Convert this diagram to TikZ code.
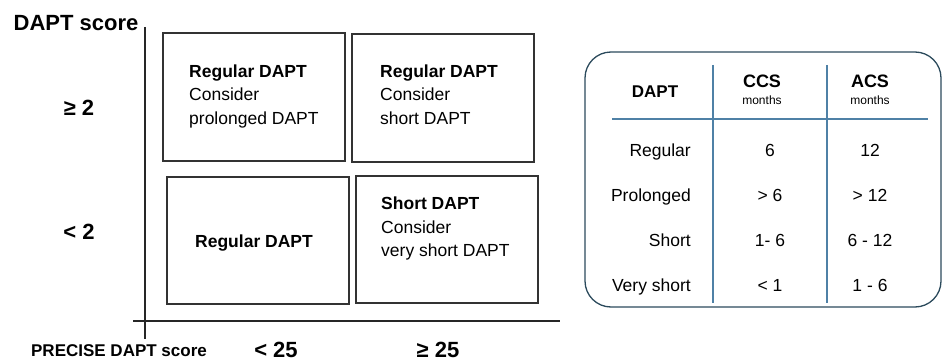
\documentclass[tikz,border=0pt]{standalone}
\usepackage{fontspec}
\setmainfont{Liberation Sans}
\usetikzlibrary{positioning}

\definecolor{boxline}{HTML}{333333}
\definecolor{tabframe}{HTML}{2B4A5C}
\definecolor{tabrule}{HTML}{4F81A6}

\tikzset{
	cell/.style={draw=boxline, line width=1.4pt, minimum width=182pt, inner sep=0pt},
	celltext/.style={align=left, inner sep=0pt, font=\fontsize{17.5}{23.5}\selectfont},
	axislabel/.style={inner sep=0pt, font=\bfseries\fontsize{22}{24}\selectfont},
	axis/.style={draw=black!85, line width=1.2pt},
	tabtext/.style={inner sep=0pt, text height=12.5pt, text depth=3.5pt, font=\fontsize{17.5}{20}\selectfont},
	tabhead/.style={inner sep=0pt, font=\bfseries\fontsize{18}{20}\selectfont},
	tabsmall/.style={inner sep=0pt, font=\fontsize{12}{14}\selectfont},
	rule/.style={draw=tabrule, line width=1.3pt}
}

\begin{document}
\begin{tikzpicture}[x=1pt,y=-1pt]
		\useasboundingbox (0,0) rectangle (943,361);
		% axes
		\coordinate (ytop) at (145,27);
		\coordinate (ybot) at (145,339);
		\coordinate (xleft) at (133,321);
		\coordinate (xright) at (560,321);
		\path[axis]
			(ytop) edge (ybot)
			(xleft) edge (xright);
		\draw (76,23) node [axislabel] (yname) {DAPT score};
		\draw (79,108) node [axislabel] (high) {≥ 2};
		\draw (79,232) node [axislabel] (low) {< 2};
		\draw (119,351) node [axislabel, font=\bfseries\fontsize{17}{19}\selectfont] (xname) {PRECISE DAPT score};
		\draw (276,350) node [axislabel] (under) {< 25};
		\draw (438,350) node [axislabel] (over) {≥ 25};

		% the four cells
		\draw (254,97) node [cell, minimum height=128pt] (tl) {};
		\draw (443,98) node [cell, minimum height=128pt] (tr) {};
		\draw (258,240.5) node [cell, minimum height=127pt] (bl) {};
		\draw (447,239.5) node [cell, minimum height=127pt] (br) {};
		\draw (189,96) node [celltext, anchor=west] (tltext) {\textbf{Regular DAPT}\\Consider\\prolonged DAPT};
		\draw (380,94.5) node [celltext, anchor=west] (trtext) {\textbf{Regular DAPT}\\Consider\\short DAPT};
		\draw (254,243) node [celltext] (bltext) {\textbf{Regular DAPT}};
		\draw (381,228.5) node [celltext, anchor=west] (brtext) {\textbf{Short DAPT}\\Consider\\very short DAPT};

		% duration table
		\draw (763,179.5) node [draw=tabframe, line width=1.3pt, rounded corners=26pt, minimum width=356pt, minimum height=255pt] (tab) {};
		\coordinate (c1top) at (713,65);
		\coordinate (c1bot) at (713,303);
		\coordinate (c2top) at (827,65);
		\coordinate (c2bot) at (827,303);
		\coordinate (hleft) at (612,119);
		\coordinate (hright) at (928,119);
		\path[rule]
			(c1top) edge (c1bot)
			(c2top) edge (c2bot)
			(hleft) edge (hright);
		\draw (655,92) node [tabhead, font=\bfseries\fontsize{17}{20}\selectfont] (dapt) {DAPT};
		\draw (762,81) node [tabhead] (ccs) {CCS};
		\draw (762,100) node [tabsmall] (ccsunit) {months};
		\draw (870,81) node [tabhead] (acs) {ACS};
		\draw (870,100) node [tabsmall] (acsunit) {months};
		\draw (691,152) node [tabtext, anchor=east] (regular) {Regular};
		\draw (691,197) node [tabtext, anchor=east] (prolonged) {Prolonged};
		\draw (691,242) node [tabtext, anchor=east] (short) {Short};
		\draw (691,287) node [tabtext, anchor=east] (veryshort) {Very short};
		\draw (770,152) node [tabtext] (ccsa) {6};
		\draw (770,197) node [tabtext] (ccsb) {> 6};
		\draw (770,242) node [tabtext] (ccsc) {1- 6};
		\draw (770,287) node [tabtext] (ccsd) {< 1};
		\draw (870,152) node [tabtext] (acsa) {12};
		\draw (870,197) node [tabtext] (acsb) {> 12};
		\draw (870,242) node [tabtext] (acsc) {6 - 12};
		\draw (870,287) node [tabtext] (acsd) {1 - 6};
	\end{tikzpicture}
\end{document}
